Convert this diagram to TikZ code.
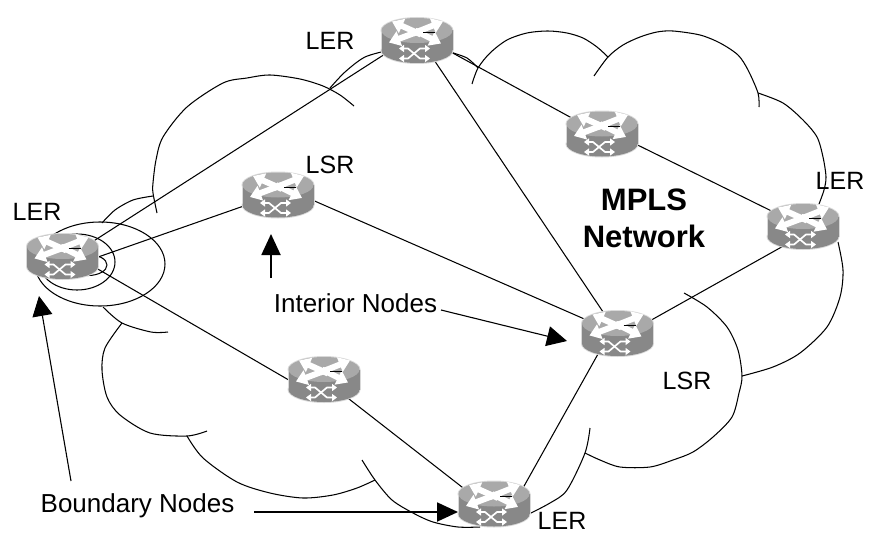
\documentclass[tikz,border=0pt]{standalone}
\usepackage{fontspec}
\setmainfont{Liberation Sans}
\usetikzlibrary{arrows.meta, backgrounds}

\definecolor{routertop}{HTML}{A9A9A9}
\definecolor{routerside}{HTML}{888888}
\definecolor{routerrim}{HTML}{D9D9D9}

% icon of a router, drawn inside an empty node
\newcommand{\routericon}{
  \begin{scope}[shift={(path picture bounding box.center)}]
    \fill[routerrim] (0,10) ellipse (36.5 and 13.5);
    \fill[routerrim] (-36.5,-10) rectangle (36.5,10);
    \fill[routerrim] (0,-10) ellipse (36.5 and 13.5);
    \fill[routerside] (0,10) ellipse (35.5 and 12.5);
    \fill[routerside] (-35.5,-10) rectangle (35.5,10);
    \fill[routertop] (0,-10) ellipse (35.5 and 12.5);
    % arrows on the top
    \draw[toparrow] (4,-6) -- (-25,-19);
    \draw[toparrow] (-4,-7) -- (26,-19);
    \draw[toparrow] (4,-10) -- (-28,2);
    \draw[toparrow] (-2,-10) -- (24,3);
    \draw[black, line width=.8] (6,-8) -- (18,-8);
    % arrows on the side
    \draw[sidearrow] (-18,8) -- (-9,8) -- (3,18) -- (13,18);
    \draw[sidearrow] (-18,18) -- (-9,18) -- (3,8) -- (13,8);
  \end{scope}
}

\tikzset{
  toparrow/.style={white, line width=6, -{Triangle[length=11,width=15]}},
  sidearrow/.style={white, line width=1.7, {Triangle[length=5,width=7]}-{Triangle[length=5,width=7]}},
  router/.style={minimum width=74, minimum height=50, inner sep=0, path picture={\routericon}},
  link/.style={line width=1.05, black},
  cloudline/.style={line width=1.05, black, line join=round},
  pointer/.style={line width=1.1, black, -{Triangle[length=20,width=20]}},
  pointerb/.style={line width=1.9, black, -{Triangle[length=21,width=19]}},
  tag/.style={inner sep=0, font=\fontsize{25}{28}\selectfont},
  longtag/.style={inner sep=0, font=\fontsize{26}{28}\selectfont},
}

\begin{document}
\begin{tikzpicture}[x=1pt,y=-1pt]
  \useasboundingbox (0,0) rectangle (883,543);
  \node[router] (ler1) at (62.5,256.5) {};
  \node[router] (ler2) at (417,40.5) {};
  \node[router] (ler3) at (803,226.5) {};
  \node[router] (ler4) at (494,504) {};
  \node[router] (lsr1) at (278,195) {};
  \node[router] (lsr2) at (617.5,333.5) {};
  \node[router] (lsr3) at (602,134) {};
  \node[router] (lsr4) at (324,379.5) {};

  % labels
  \node[tag] (t1) at (37,212) {LER};
  \node[tag] (t2) at (330,40.5) {LER};
  \node[tag] (t3) at (840,180.5) {LER};
  \node[tag] (t4) at (562,521) {LER};
  \node[tag] (t5) at (330,165) {LSR};
  \node[tag] (t6) at (687,381) {LSR};
  \node[longtag] (interior) at (355.5,303) {Interior Nodes};
  \node[longtag] (boundary) at (137.5,506) {Boundary Nodes};
  \node[align=center, inner sep=0, font=\fontsize{31}{37}\selectfont\bfseries] (mpls) at (644,218) {MPLS\\Network};

  % arrows
  \coordinate (a1) at (271,278);
  \coordinate (a2) at (271,234);
  \coordinate (a3) at (441,310);
  \coordinate (a4) at (567,341);
  \coordinate (a5) at (71,481);
  \coordinate (a6) at (39,296);
  \coordinate (a7) at (254,512);
  \coordinate (a8) at (458,512);
  \draw[pointerb] (a1) -- (a2);
  \draw[pointer] (a3) -- (a4);
  \draw[pointer] (a5) -- (a6);
  \draw[pointerb] (a7) -- (a8);

  \begin{scope}[on background layer]
    % links
    \draw[link] ([yshift=-4.5]ler1.center) -- ([yshift=7]ler2.center);
    \draw[link] ([yshift=-13]ler1.center) -- ([yshift=1]lsr1.center);
    \draw[link] ([yshift=8]ler1.center) -- ([yshift=-21]lsr4.center);
    \draw[link] ([yshift=7]ler2.center) -- ([yshift=-.5]lsr3.center);
    \draw[link] ([xshift=4]ler2.center) -- (lsr2.center);
    \draw[link] ([yshift=6.5]lsr3.center) -- (ler3.center);
    \draw[link] ([yshift=10]lsr1.center) -- (lsr2.center);
    \draw[link] ([yshift=-8.5]ler3.center) -- ([yshift=-5.5]lsr2.center);
    \draw[link] ([xshift=-8]lsr2.center) -- ([xshift=20]ler4.center);
    \draw[link] (lsr4.center) -- ([yshift=-8]ler4.center);
    % rings round the left router
    \draw[cloudline] (100,264) ellipse (65 and 42);
    \draw[cloudline] (77,262) ellipse (38 and 28);
    \draw[cloudline] (88,265) ellipse (19 and 10.5);
    % outline of the cloud
    \draw[cloudline] plot[smooth, tension=.5] coordinates {(157,213) (153,193) (153,183) (156,160) (163,137) (187,107) (223,83) (247,78) (270,75) (300,79) (323,86) (340,95) (354,106)};
    \draw[cloudline] plot[smooth, tension=.5] coordinates {(153,196) (133,200) (115,210) (102,223)};
    \draw[cloudline] plot[smooth, tension=.5] coordinates {(330,88) (345,72) (365,57) (390,50)};
    \draw[cloudline] plot[smooth, tension=.5] coordinates {(450,52) (467,58) (478,68)};
    \draw[cloudline] plot[smooth, tension=.5] coordinates {(472,84) (478,68) (490,53) (507,40) (527,33) (548,31) (567,33) (583,38) (597,47) (608,57)};
    \draw[cloudline] plot[smooth, tension=.5] coordinates {(594,76) (608,57) (623,45) (640,37) (657,32) (673,31) (700,35) (720,43) (738,55) (748,70) (758,93) (759,107)};
    \draw[cloudline] plot[smooth, tension=.5] coordinates {(758,93) (783,103) (803,120) (817,137) (823,157) (826,177) (824,190) (819,204)};
    \draw[cloudline] plot[smooth, tension=.5] coordinates {(838,242) (843,270) (840,297) (827,327) (800,353) (773,367) (742,376)};
    \draw[cloudline] plot[smooth, tension=.5] coordinates {(684,293) (707,307) (727,327) (738,350) (742,376) (739,393) (732,417) (713,437) (693,452) (673,460) (650,467) (620,467) (600,460) (585,453)};
    \draw[cloudline] plot[smooth, tension=.5] coordinates {(590,428) (585,453) (567,490) (550,503) (525,516)};
    \draw[cloudline] plot[smooth, tension=.5] coordinates {(480,527) (458,527) (433,522) (413,513) (392,500) (375,480) (362,460)};
    \draw[cloudline] plot[smooth, tension=.5] coordinates {(375,480) (357,488) (333,495) (303,498) (270,493) (237,482) (203,458) (187,436)};
    \draw[cloudline] plot[smooth, tension=.5] coordinates {(207,431) (187,436) (150,433) (120,415) (107,397) (102,370) (105,348) (122,323)};
    \draw[cloudline] plot[smooth, tension=.5] coordinates {(168,332) (151,332) (122,323) (103,307)};
  \end{scope}
\end{tikzpicture}
\end{document}
